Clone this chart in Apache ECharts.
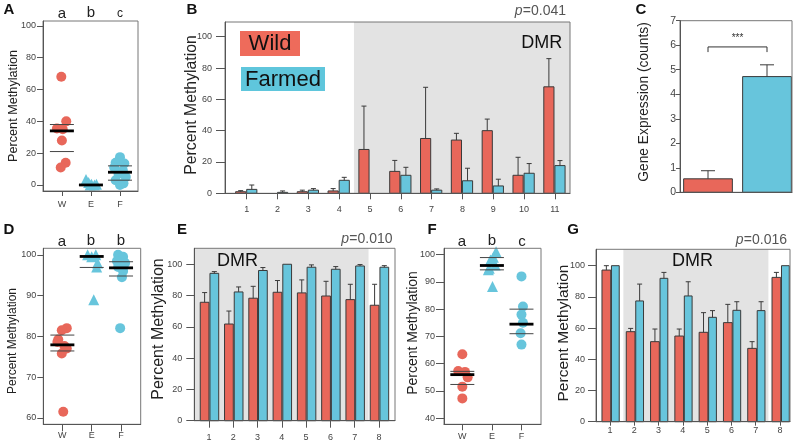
<!DOCTYPE html>
<html><head><meta charset="utf-8">
<script src="https://cdn.jsdelivr.net/npm/echarts@6/dist/echarts.min.js"></script>
<style>html,body{margin:0;padding:0;background:#fff}#c{width:800px;height:447px}</style>
</head><body><div id="c"></div>
<script>
// ---------- DATA ----------
const groupsWEF = ['W', 'E', 'F'];
// Panel A
const aWild = [68, 40, 35.5, 35, 28, 14, 11];
const aWildJit = [-0.02, 0.15, -0.17, 0.03, 0, 0.13, -0.04];
const aEnv = [3.5, 1.5, 0.5, 0, 0, 0.5];
const aEnvJit = [-0.17, -0.08, 0.02, -0.03, 0.12, 0.19];
const aFarm = [17.5, 14, 13.5, 11, 9, 7, 5, 3, 1, 0];
const aFarmJit = [0, -0.15, 0.15, -0.2, 0.1, -0.05, 0.2, -0.15, 0.12, 0];
const aMid = [34, 0, 8], aHi = [38, null, 12], aLo = [21, null, 3];
const aLetters = ['a', 'b', 'c'];
// Panel B
const bCats = ['1','2','3','4','5','6','7','8','9','10','11'];
const bWild = [1, 0, 1, 1.5, 28, 14, 35, 34, 40, 11.5, 68];
const bWildErr = [1.7, null, 2, 3, 55.7, 21, 67.7, 38.3, 47.4, 23, 86];
const bFarm = [2.5, 0.6, 2, 8.3, 0, 11.5, 2, 8, 4.7, 12.8, 17.7];
const bFarmErr = [5.3, 1.5, 3, 10.2, null, 16.6, 2.8, 16, 9, 19, 20.9];
const bDMR = [4.48, 11.6];
// Panel C
const cCats = ['Wild', 'Farmed'];
const cVal = [0.55, 4.72];
const cErr = [0.88, 5.2];
// Panel D
const dWild = [82, 81.5, 79.2, 78.6, 77.6, 77, 75.8, 61.5];
const dWildJit = [0.15, -0.02, -0.14, -0.17, 0.07, 0.15, -0.02, 0.03];
const dEnv = [100, 100, 99.5, 98, 97, 89];
const dEnvJit = [-0.14, 0.14, 0, 0.2, 0.17, 0.07];
const dFarm = [100, 99.5, 98.5, 98, 97, 96, 94.5, 82];
const dFarmJit = [-0.1, 0.07, -0.14, 0.14, -0.1, 0.07, 0.03, -0.03];
const dMid = [77.9, 99.6, 96.8], dHi = [80.3, null, 98.3], dLo = [76.4, 96.9, 94.8];
const dLetters = ['a', 'b', 'b'];
// Panel E
const eCats = ['1','2','3','4','5','6','7','8'];
const eWild = [75.7, 61.8, 78.3, 82.1, 81.7, 79.7, 77.4, 73.8];
const eWildErr = [81.9, 70.1, 85.9, 89.6, 90, 89.1, 87.2, 87.2];
const eFarm = [94.2, 82.3, 96, 100, 98.1, 96.8, 98.9, 98.1];
const eFarmErr = [95.3, 85.5, 97.9, null, 99.6, 98.5, 99.8, 99.1];
const eDMR = [0.3, 7.57];
// Panel F
const fWild = [63.5, 57.3, 57, 55, 51.6, 47.3];
const fWildJit = [0, -0.14, 0.09, 0.18, 0, 0];
const fEnv = [101, 99, 98, 96.2, 95, 94.4, 88.3];
const fEnvJit = [0.14, 0.05, -0.05, 0.11, -0.09, -0.12, 0.02];
const fFarm = [92, 81, 78, 75, 71.2, 67];
const fFarmJit = [0, 0.05, 0, 0.05, -0.03, 0];
const fMid = [56, 96, 74.5], fHi = [57.2, 98.9, 80], fLo = [52.4, 94.4, 71];
const fLetters = ['a', 'b', 'c'];
// Panel G
const gCats = ['1','2','3','4','5','6','7','8'];
const gWild = [97.2, 57.7, 51.3, 54.9, 57.3, 63.5, 47, 92.5];
const gWildErr = [100, 59.8, 59.4, 59.4, 69.9, 75.2, 51.3, 95.7];
const gFarm = [100, 77.4, 91.9, 80.6, 66.9, 71.4, 71.2, 100];
const gFarmErr = [null, 88.2, 95.7, 89.7, 71.2, 76.9, 76.9, null];
const gDMR = [1.55, 7.52];
// tick labels
const ticks0to100 = [0, 20, 40, 60, 80, 100];
const ticksC = [0, 1, 2, 3, 4, 5, 6, 7];
const ticksD = [60, 70, 80, 90, 100];
const ticksF = [40, 50, 60, 70, 80, 90, 100];
const pB = '=0.041', pE = '=0.010', pG = '=0.016';

// ---------- STYLE ----------
const FONT = '"Liberation Sans", Arial, Helvetica, sans-serif';
const RED = '#E8675A', CYAN = '#67C5DC', EDGE = '#3a3a3a', GRAY = '#e3e3e3';

const grids = [
  {left: 43, top: 21, width: 95, height: 170},
  {left: 225, top: 22, width: 345, height: 171.3},
  {left: 680, top: 20.7, width: 112, height: 171.6},
  {left: 43.3, top: 248.3, width: 97.4, height: 176},
  {left: 194.3, top: 248.3, width: 200.7, height: 172.4},
  {left: 444, top: 248.3, width: 97, height: 176},
  {left: 596, top: 249.3, width: 194, height: 172.4}
].map(g => Object.assign({show: true, borderColor: '#777', borderWidth: 1, backgroundColor: 'transparent',
  z: 10, containLabel: false, outerBoundsMode: 'none'}, g));

function yAx(gi, min, max, ticks, tickLen, margin, fs) {
  return {type: 'value', gridIndex: gi, min, max, z: 10,
    axisLine: {show: true, onZero: false, lineStyle: {color: '#555', width: 1}},
    axisTick: {show: true, length: tickLen, customValues: ticks, lineStyle: {color: '#555'}},
    axisLabel: {show: true, customValues: ticks, fontSize: fs || 9, color: '#444', margin, fontFamily: FONT},
    splitLine: {show: false}};
}
function xAx(gi, min, max, labels, tickLen, margin) {
  const ticks = labels.map((_, i) => i + 1);
  return {type: 'value', gridIndex: gi, min, max, z: 10,
    axisLine: {show: true, onZero: false, lineStyle: {color: '#555', width: 1}},
    axisTick: {show: true, length: tickLen, customValues: ticks, lineStyle: {color: '#555'}},
    axisLabel: {show: true, customValues: ticks, fontSize: 9, color: '#444', margin, fontFamily: FONT,
      formatter: v => labels[Math.round(v) - 1]},
    splitLine: {show: false}};
}

const xAxes = [
  xAx(0, 0.35, 3.62, groupsWEF, 5, 9),
  xAx(1, 0.296, 11.49, bCats, 6, 12),
  {type: 'category', gridIndex: 2, data: cCats, z: 10, axisLine: {show: true, lineStyle: {color: '#555'}},
    axisTick: {show: false}, axisLabel: {show: false}},
  xAx(3, 0.35, 3.67, groupsWEF, 7, 7),
  xAx(4, 0.395, 8.66, eCats, 7, 12),
  xAx(5, 0.38, 3.66, groupsWEF, 6, 8),
  xAx(6, 0.424, 8.41, gCats, 4, 4)
];
const yAxes = [
  yAx(0, -3.8, 103.1, ticks0to100, 6, 7),
  yAx(1, 0, 109.4, ticks0to100, 9, 13),
  yAx(2, 0, 7, ticksC, 4, 4, 10.5),
  yAx(3, 58.4, 101.6, ticksD, 6, 7),
  yAx(4, 0, 110.2, ticks0to100, 8, 12),
  yAx(5, 37.8, 102.3, ticksF, 8, 9),
  yAx(6, 0, 110.5, ticks0to100, 8, 11)
];

function dots(gi, vals, jit, pos, color, symbol) {
  return {type: 'scatter', xAxisIndex: gi, yAxisIndex: gi, symbol: symbol || 'circle',
    symbolSize: symbol === 'triangle' ? 11 : 10, z: 3, silent: true,
    itemStyle: {color, opacity: 1}, data: vals.map((v, i) => [pos + jit[i], v])};
}
function meanLines(gi, mid, hi, lo) {
  const data = [];
  hi.forEach((v, i) => { if (v != null) data.push([i + 1, v, 0]); });
  lo.forEach((v, i) => { if (v != null) data.push([i + 1, v, 0]); });
  mid.forEach((v, i) => { if (v != null) data.push([i + 1, v, 1]); });
  return {type: 'custom', xAxisIndex: gi, yAxisIndex: gi, z: 5, silent: true, data,
    renderItem: (p, api) => {
      const a = api.coord([api.value(0), api.value(1)]);
      const thick = api.value(2) === 1;
      return {type: 'line', shape: {x1: a[0] - 12, y1: a[1], x2: a[0] + 12, y2: a[1]},
        style: {stroke: thick ? '#000' : '#444', lineWidth: thick ? 2.8 : 1}};
    }};
}
function bars(gi, vals, errs, off, color) {
  return {type: 'custom', xAxisIndex: gi, yAxisIndex: gi, z: 3, silent: true,
    data: vals.map((v, i) => [i + 1, v, errs[i] == null ? v : errs[i]]),
    renderItem: (p, api) => {
      const x = api.value(0), v = api.value(1), e = api.value(2);
      if (!(v > 0)) return null;
      const a = api.coord([x + off[0], v]), b = api.coord([x + off[1], 0]);
      const ch = [{type: 'rect', shape: {x: a[0], y: a[1], width: b[0] - a[0], height: b[1] - a[1]},
        style: {fill: color, stroke: EDGE, lineWidth: 1}}];
      if (e > v + 0.05) {
        const cx = (a[0] + b[0]) / 2, t = api.coord([x, e])[1];
        ch.push({type: 'line', shape: {x1: cx, y1: a[1], x2: cx, y2: t}, style: {stroke: EDGE, lineWidth: 1}});
        ch.push({type: 'line', shape: {x1: cx - 2.5, y1: t, x2: cx + 2.5, y2: t}, style: {stroke: EDGE, lineWidth: 1}});
      }
      return {type: 'group', children: ch};
    }};
}
function dmr(gi, range) {
  return {type: 'custom', xAxisIndex: gi, yAxisIndex: gi, z: 1, silent: true, data: [range],
    renderItem: (p, api) => {
      const cs = p.coordSys;
      const x0 = Math.max(cs.x, api.coord([api.value(0), 0])[0]);
      const x1 = Math.min(cs.x + cs.width, api.coord([api.value(1), 0])[0]);
      return {type: 'rect', shape: {x: x0, y: cs.y, width: x1 - x0, height: cs.height}, style: {fill: GRAY}};
    }};
}
const cBars = {type: 'custom', xAxisIndex: 2, yAxisIndex: 2, z: 3, silent: true,
  data: cVal.map((v, i) => [i, v, cErr[i]]),
  renderItem: (p, api) => {
    const i = api.value(0), v = api.value(1), e = api.value(2);
    const band = api.size([1, 0])[0], w = band * 0.87;
    const top = api.coord([i, v]), base = api.coord([i, 0]), t = api.coord([i, e])[1];
    const cx = top[0] + (i === 1 ? 3 : 0);
    return {type: 'group', children: [
      {type: 'rect', shape: {x: cx - w / 2, y: top[1], width: w, height: base[1] - top[1]},
        style: {fill: i === 0 ? RED : CYAN, stroke: EDGE, lineWidth: 1}},
      {type: 'line', shape: {x1: cx, y1: top[1], x2: cx, y2: t}, style: {stroke: EDGE, lineWidth: 1}},
      {type: 'line', shape: {x1: cx - 7, y1: t, x2: cx + 7, y2: t}, style: {stroke: EDGE, lineWidth: 1}}
    ]};
  }};
const cBracket = {type: 'custom', xAxisIndex: 2, yAxisIndex: 2, z: 4, silent: true,
  data: [[0, 5.93]],
  renderItem: (p, api) => {
    const l = api.coord([0, 5.93]), r = api.coord([1, 5.93]), d = api.coord([0, 5.72])[1];
    const rx = r[0] + 3;
    return {type: 'group', children: [
      {type: 'polyline', shape: {points: [[l[0], d], [l[0], l[1]], [rx, r[1]], [rx, d]]}, style: {stroke: '#333', fill: null, lineWidth: 1}},
      {type: 'text', style: {text: '***', x: (l[0] + rx) / 2, y: l[1] - 9, font: '10px ' + FONT, fill: '#333', align: 'center', verticalAlign: 'middle'}}
    ]};
  }};

const series = [
  dots(0, aWild, aWildJit, 1, RED), dots(0, aEnv, aEnvJit, 2, CYAN, 'triangle'), dots(0, aFarm, aFarmJit, 3, CYAN),
  meanLines(0, aMid, aHi, aLo),
  dmr(1, bDMR), bars(1, bWild, bWildErr, [-0.36, -0.03], RED), bars(1, bFarm, bFarmErr, [0, 0.33], CYAN),
  cBars, cBracket,
  dots(3, dWild, dWildJit, 1, RED), dots(3, dEnv, dEnvJit, 2, CYAN, 'triangle'), dots(3, dFarm, dFarmJit, 3, CYAN),
  meanLines(3, dMid, dHi, dLo),
  dmr(4, eDMR), bars(4, eWild, eWildErr, [-0.36, 0.0], RED), bars(4, eFarm, eFarmErr, [0.04, 0.40], CYAN),
  dots(5, fWild, fWildJit, 1, RED), dots(5, fEnv, fEnvJit, 2, CYAN, 'triangle'), dots(5, fFarm, fFarmJit, 3, CYAN),
  meanLines(5, fMid, fHi, fLo),
  dmr(6, gDMR), bars(6, gWild, gWildErr, [-0.33, 0.03], RED), bars(6, gFarm, gFarmErr, [0.06, 0.38], CYAN)
];

// ---------- TEXT ----------
function T(x, y, text, size, o) {
  o = o || {};
  return {type: 'text', x, y, z: 20, silent: true, rotation: o.rot || 0,
    style: {text, font: (o.italic ? 'italic ' : '') + (o.bold ? 'bold ' : '') + size + 'px ' + FONT,
      fill: o.color || '#222', align: o.align || 'center', verticalAlign: 'middle',
      textAlign: o.align || 'center', textVerticalAlign: 'middle'}};
}
const R = Math.PI / 2;
const els = [
  T(9, 10, 'A', 15, {bold: true, color: '#111'}), T(192, 10, 'B', 15, {bold: true, color: '#111'}),
  T(641, 10, 'C', 15, {bold: true, color: '#111'}), T(9, 230, 'D', 15, {bold: true, color: '#111'}),
  T(182, 230, 'E', 15, {bold: true, color: '#111'}), T(432, 230, 'F', 15, {bold: true, color: '#111'}),
  T(573, 230, 'G', 15, {bold: true, color: '#111'}),
  T(62, 14, aLetters[0], 15), T(91, 13, aLetters[1], 15), T(120, 14, aLetters[2], 12),
  T(62, 242, dLetters[0], 15), T(91, 241, dLetters[1], 15), T(121, 241, dLetters[2], 15),
  T(462, 242, fLetters[0], 15), T(492, 241, fLetters[1], 15), T(522, 242, fLetters[2], 15),
  T(13, 106, 'Percent Methylation', 12.7, {rot: R}),
  T(192, 105, 'Percent Methylation', 15.8, {rot: R}),
  T(644, 102, 'Gene Expression (counts)', 13.8, {rot: R}),
  T(13, 341, 'Percent Methylation', 12, {rot: R}),
  T(159, 329, 'Percent Methylation', 16, {rot: R}),
  T(413, 333, 'Percent Methylation', 14, {rot: R}),
  T(564, 333, 'Percent Methylation', 15.5, {rot: R}),
  T(566, 11, pB, 14, {align: 'right', color: '#555'}), T(522.6, 11, 'p', 14, {align: 'right', italic: true, color: '#555'}),
  T(392.5, 239.5, pE, 14, {align: 'right', color: '#555'}), T(349.1, 239.5, 'p', 14, {align: 'right', italic: true, color: '#555'}),
  T(787, 240, pG, 14, {align: 'right', color: '#555'}), T(743.6, 240, 'p', 14, {align: 'right', italic: true, color: '#555'}),
  T(541.7, 43.3, 'DMR', 18, {color: '#111'}), T(237.5, 260.7, 'DMR', 18, {color: '#111'}), T(692.5, 260.7, 'DMR', 18, {color: '#111'}),
  {type: 'rect', z: 19, silent: true, shape: {x: 240, y: 31, width: 60, height: 25}, style: {fill: '#EE6B5B'}},
  {type: 'rect', z: 19, silent: true, shape: {x: 241, y: 67, width: 84, height: 24}, style: {fill: '#5FC6DC'}},
  T(270, 44, 'Wild', 22, {color: '#111'}), T(283, 79.5, 'Farmed', 22, {color: '#111'})
];

const chart = echarts.init(document.getElementById('c'), null, {renderer: 'canvas'});
chart.setOption({animation: false, backgroundColor: '#fff', textStyle: {fontFamily: FONT},
  grid: grids, xAxis: xAxes, yAxis: yAxes, series, graphic: {elements: els}});
</script></body></html>
